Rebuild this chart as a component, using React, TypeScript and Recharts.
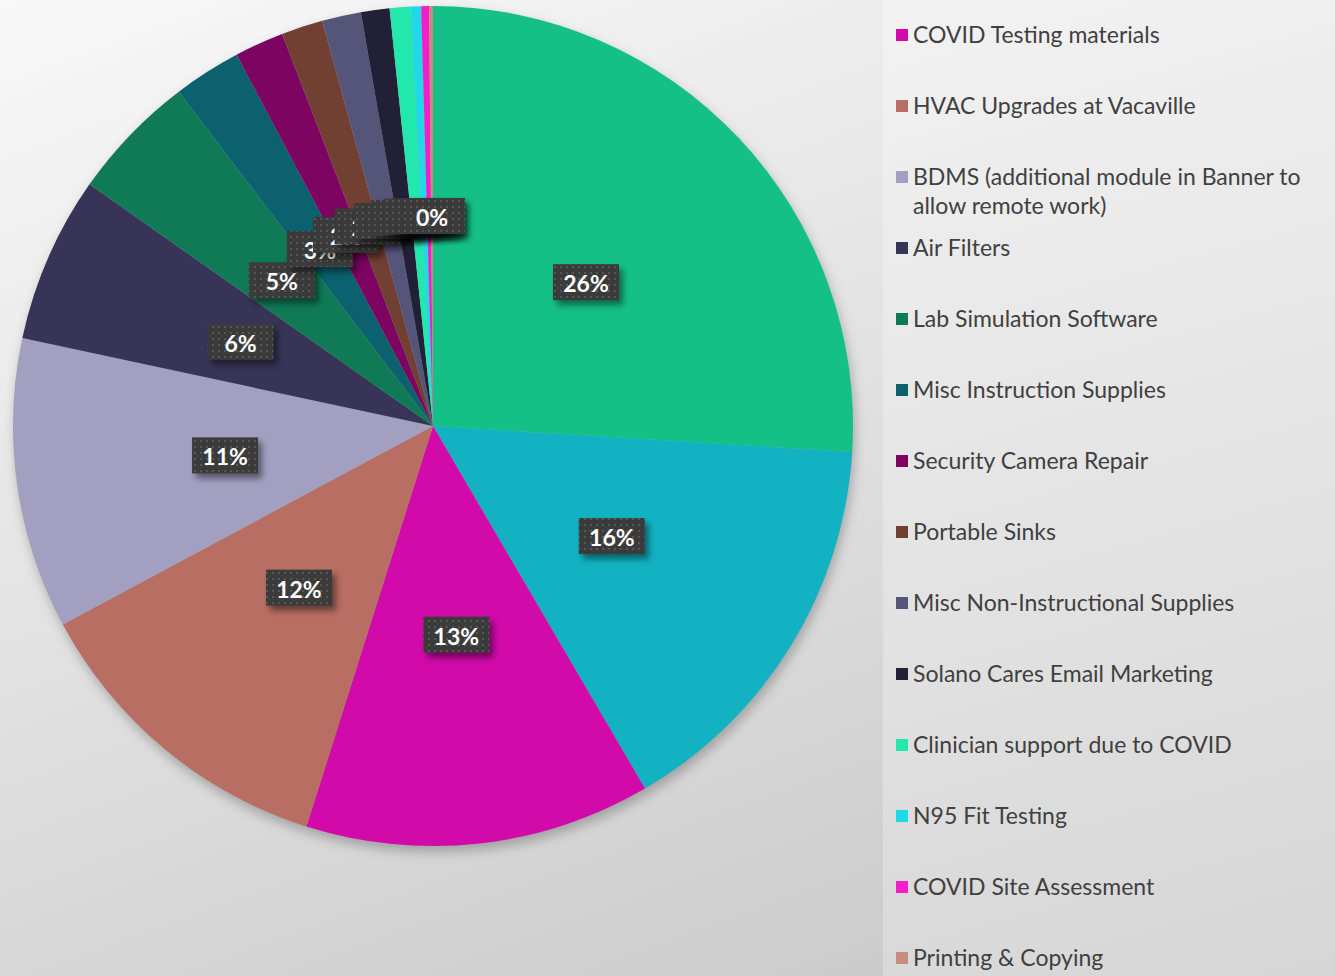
import { PieChart, Pie, Cell, Legend } from "recharts";

// slices, clockwise from 12 o'clock (first two names are cut off in the legend)
const sliceNames = [
  "",
  "",
  "COVID Testing materials",
  "HVAC Upgrades at Vacaville",
  "BDMS (additional module in Banner to allow remote work)",
  "Air Filters",
  "Lab Simulation Software",
  "Misc Instruction Supplies",
  "Security Camera Repair",
  "Portable Sinks",
  "Misc Non-Instructional Supplies",
  "Solano Cares Email Marketing",
  "Clinician support due to COVID",
  "N95 Fit Testing",
  "COVID Site Assessment",
  "Printing & Copying",
];
const sliceValues = [26.0, 15.6, 13.3, 12.3, 11.2, 6.4, 4.9, 2.6, 1.9, 1.6, 1.5, 1.1, 0.8, 0.4, 0.3, 0.15];
const sliceColors = [
  "#15C087", "#12B2C2", "#D20AAA", "#B86E62", "#A29FC0", "#383457", "#0F7A55", "#0B626E",
  "#7E0462", "#723F33", "#555579", "#222036", "#22E8AE", "#20D8EA", "#F21FC8", "#C88C7E",
];

// legend as shown on the slide
const legendLines: Record<string, string[]> = {
  "BDMS (additional module in Banner to allow remote work)": [
    "BDMS (additional module in Banner to",
    "allow remote work)",
  ],
};

const data = sliceNames.map((name, i) => ({
  name,
  value: sliceValues[i],
  color: sliceColors[i],
}));

const RAD = Math.PI / 180;

const renderLabel = (props: any) => {
  const { cx, cy, midAngle, outerRadius, percent, index } = props;
  const r = outerRadius * 0.5;
  const x = cx + r * Math.cos(-midAngle * RAD);
  const y = cy + r * Math.sin(-midAngle * RAD);
  const w = 66;
  const h = 36;
  return (
    <g key={`lbl-${index}`}>
      <rect
        x={x - w / 2 + 4}
        y={y - h / 2 + 5}
        width={w}
        height={h}
        fill="#000"
        opacity={0.45}
        filter="url(#lblShadow)"
      />
      <rect x={x - w / 2} y={y - h / 2} width={w} height={h} fill="url(#dots)" />
      <text
        x={x}
        y={y + 1}
        fill="#fff"
        textAnchor="middle"
        dominantBaseline="central"
        fontFamily="Lato, sans-serif"
        fontWeight={700}
        fontSize={23}
      >
        {`${Math.round(percent * 100)}%`}
      </text>
    </g>
  );
};

const renderLegend = () => (
  <div style={{ fontFamily: "Lato, sans-serif", fontSize: 23, color: "#404040" }}>
    {data
      .filter((d) => d.name !== "")
      .map((d) => (
        <div key={d.name} style={{ position: "relative", height: 71 }}>
          <span
            style={{
              position: "absolute",
              left: 0,
              top: 9,
              width: 12,
              height: 12,
              background: d.color,
            }}
          />
          <div style={{ position: "absolute", left: 17, top: 0, lineHeight: "29px", whiteSpace: "nowrap" }}>
            {(legendLines[d.name] || [d.name]).map((l) => (
              <div key={l}>{l}</div>
            ))}
          </div>
        </div>
      ))}
  </div>
);

export default function App() {
  return (
    <div
      style={{
        position: "relative",
        width: 1335,
        height: 976,
        overflow: "hidden",
        background: "linear-gradient(160deg, #f8f8f8 0%, #e2e2e2 45%, #c6c6c6 100%)",
      }}
    >
      <style>{`body{margin:0}`}</style>
      <div
        style={{
          position: "absolute",
          left: 883,
          top: 0,
          width: 452,
          height: 976,
          background: "linear-gradient(165deg, #f2f2f2 0%, #e4e4e4 50%, #d6d6d6 100%)",
        }}
      />
      <div style={{ position: "absolute", left: 0, top: 0 }}>
        <PieChart width={1335} height={976}>
          <defs>
            <pattern id="dots" width="6" height="6" patternUnits="userSpaceOnUse">
              <rect width="6" height="6" fill="#3b3b3b" />
              <rect x="2" y="2" width="2" height="2" fill="#565656" />
            </pattern>
            <filter id="lblShadow" x="-30%" y="-30%" width="160%" height="160%">
              <feGaussianBlur stdDeviation="3" />
            </filter>
            <filter id="pieShadow" x="-10%" y="-10%" width="120%" height="120%">
              <feGaussianBlur stdDeviation="6" />
            </filter>
          </defs>
          {/* soft shadow under the pie */}
          <Pie
            data={[{ name: "shadow", value: 1 }]}
            dataKey="value"
            cx={430}
            cy={427}
            outerRadius={420}
            stroke="none"
            fill="#000"
            fillOpacity={0.25}
            style={{ filter: "url(#pieShadow)" }}
            isAnimationActive={false}
            legendType="none"
          />
          <Pie
            data={data}
            dataKey="value"
            nameKey="name"
            cx={428}
            cy={421}
            outerRadius={420}
            startAngle={90}
            endAngle={-270}
            stroke="none"
            label={renderLabel}
            labelLine={false}
            isAnimationActive={false}
          >
            {data.map((d, i) => (
              <Cell key={i} fill={d.color} />
            ))}
          </Pie>
          <Legend
            layout="vertical"
            align="right"
            verticalAlign="top"
            content={renderLegend}
            wrapperStyle={{ left: 896, top: 20, width: 430 }}
          />
        </PieChart>
      </div>
    </div>
  );
}
